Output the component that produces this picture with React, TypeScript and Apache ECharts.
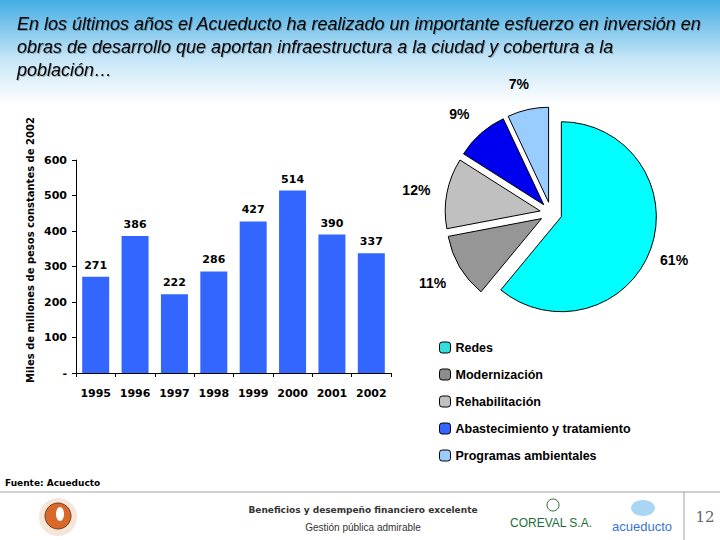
import React, { useEffect, useRef } from "react";
import * as echarts from "echarts";

const years = ["1995", "1996", "1997", "1998", "1999", "2000", "2001", "2002"];
const investment = [271, 386, 222, 286, 427, 514, 390, 337];
const yTicks = [0, 100, 200, 300, 400, 500, 600];

const pieNames = [
  "Redes",
  "Modernización",
  "Rehabilitación",
  "Abastecimiento y tratamiento",
  "Programas ambientales",
];
const pieShares = [61, 11, 12, 9, 7];
const pieColors = ["#00FFFF", "#969696", "#C0C0C0", "#0000F0", "#99CCFF"];
const legendColors = ["#33DDDD", "#8C8C8C", "#C0C0C0", "#3366FF", "#99CCFF"];

const titleLines = [
  "En los últimos años el Acueducto ha realizado un importante esfuerzo en inversión en",
  "obras de desarrollo que aportan infraestructura a la ciudad y cobertura a la",
  "población…",
];
const yAxisTitle = "Miles de millones de pesos constantes de 2002";

const PCX = 551;
const PCY = 213;
const LABEL_R = 131;

export default function App() {
  const ref = useRef<HTMLDivElement>(null);
  useEffect(() => {
    if (!ref.current) return;
    const chart = echarts.init(ref.current, null, { renderer: "svg" });
    const option: any = {
      animation: false,
      backgroundColor: "#FFFFFF",
      textStyle: { fontFamily: "DejaVu Sans" },
      graphic: [
        {
          type: "rect",
          left: 0,
          top: 0,
          z: -10,
          shape: { x: 0, y: 0, width: 720, height: 105 },
          style: {
            fill: new echarts.graphic.LinearGradient(0, 0, 0, 1, [
              { offset: 0, color: "#43ACE4" },
              { offset: 0.55, color: "#C4E5F7" },
              { offset: 1, color: "#FFFFFF" },
            ]),
          },
          silent: true,
        },
        {
          type: "text",
          x: 17,
          y: 12,
          style: {
            text: titleLines.join("\n"),
            fontFamily: "Liberation Sans",
            fontStyle: "italic",
            fontSize: 18,
            lineHeight: 23,
            fill: "#000",
            textShadowColor: "rgba(0,0,0,0.25)",
            textShadowOffsetX: 1,
            textShadowOffsetY: 1,
            textShadowBlur: 1,
            verticalAlign: "top",
            align: "left",
          },
        },
        {
          type: "text",
          x: 30,
          y: 250,
          rotation: Math.PI / 2,
          style: {
            text: yAxisTitle,
            fontFamily: "DejaVu Sans",
            fontWeight: "bold",
            fontSize: 10,
            fill: "#000",
            align: "center",
            verticalAlign: "middle",
          },
        },
        {
          type: "text",
          x: 5,
          y: 483,
          style: {
            text: "Fuente: Acueducto",
            fontFamily: "DejaVu Sans",
            fontWeight: "bold",
            fontSize: 9,
            fill: "#000",
            align: "left",
            verticalAlign: "middle",
          },
        },
        {
          type: "line",
          shape: { x1: 0, y1: 492, x2: 720, y2: 492 },
          style: { stroke: "#A0A0A0", lineWidth: 1 },
        },
        {
          type: "line",
          shape: { x1: 684, y1: 492, x2: 684, y2: 540 },
          style: { stroke: "#A0A0A0", lineWidth: 1 },
        },
        {
          type: "text",
          x: 705,
          y: 517,
          style: {
            text: "12",
            fontFamily: "DejaVu Serif",
            fontSize: 15,
            fill: "#666",
            align: "center",
            verticalAlign: "middle",
          },
        },
        {
          type: "text",
          x: 363,
          y: 510,
          style: {
            text: "Beneficios y desempeño financiero excelente",
            fontFamily: "DejaVu Sans",
            fontWeight: "bold",
            fontSize: 9,
            fill: "#333",
            align: "center",
            verticalAlign: "middle",
          },
        },
        {
          type: "text",
          x: 363,
          y: 527,
          style: {
            text: "Gestión pública admirable",
            fontFamily: "Liberation Sans",
            fontSize: 10,
            fill: "#333",
            align: "center",
            verticalAlign: "middle",
          },
        },
        // left logo
        {
          type: "circle",
          shape: { cx: 58, cy: 517, r: 19 },
          style: { fill: "#F4E6DA", stroke: "none" },
        },
        {
          type: "circle",
          shape: { cx: 58, cy: 516, r: 13 },
          style: { fill: "#D9692A", stroke: "#7A3A14", lineWidth: 1 },
        },
        {
          type: "ellipse",
          shape: { cx: 60, cy: 514, rx: 4, ry: 7 },
          style: { fill: "#FFFFFF" },
        },
        // Coreval logo
        {
          type: "circle",
          shape: { cx: 553, cy: 505, r: 6 },
          style: { fill: "#FFFFFF", stroke: "#2F6B3A", lineWidth: 1 },
        },
        {
          type: "text",
          x: 551,
          y: 523,
          style: {
            text: "COREVAL S.A.",
            fontFamily: "Liberation Sans",
            fontSize: 12,
            fill: "#1F6E3A",
            align: "center",
            verticalAlign: "middle",
          },
        },
        // acueducto logo
        {
          type: "ellipse",
          shape: { cx: 643, cy: 508, rx: 12, ry: 8 },
          style: { fill: "#A9D6F2" },
        },
        {
          type: "text",
          x: 642,
          y: 526,
          style: {
            text: "acueducto",
            fontFamily: "Liberation Sans",
            fontSize: 13,
            fill: "#3A73D6",
            align: "center",
            verticalAlign: "middle",
          },
        },
      ],
      grid: { left: 76, right: 329, top: 160, bottom: 167 },
      xAxis: {
        type: "category",
        data: years,
        axisLine: { lineStyle: { color: "#000", width: 1 } },
        axisTick: { show: true, length: 4, lineStyle: { color: "#000" } },
        axisLabel: {
          interval: 0,
          color: "#000",
          fontFamily: "DejaVu Sans",
          fontWeight: "bold",
          fontSize: 11,
          margin: 15,
        },
      },
      yAxis: {
        type: "value",
        min: 0,
        max: 600,
        interval: 100,
        axisLine: { show: true, lineStyle: { color: "#000", width: 1 } },
        axisTick: { show: true, length: 4, lineStyle: { color: "#000" } },
        splitLine: { show: false },
        axisLabel: {
          color: "#000",
          fontFamily: "DejaVu Sans",
          fontWeight: "bold",
          fontSize: 11,
          margin: 9,
          formatter: (v: number) => (v === yTicks[0] ? "-" : String(v)),
        },
      },
      legend: {
        orient: "vertical",
        left: 434,
        top: 336,
        itemWidth: 11,
        itemHeight: 11,
        itemGap: 14,
        selectedMode: false,
        textStyle: {
          fontFamily: "Liberation Sans",
          fontWeight: "bold",
          fontSize: 12.5,
          color: "#000",
        },
        data: pieNames.map((n, i) => ({
          name: n,
          itemStyle: { color: legendColors[i], borderColor: "#000", borderWidth: 1 },
        })),
      },
      series: [
        {
          type: "bar",
          data: investment,
          barWidth: 27,
          itemStyle: { color: "#3366FF" },
          label: {
            show: true,
            position: "top",
            distance: 6,
            color: "#000",
            fontFamily: "DejaVu Sans",
            fontWeight: "bold",
            fontSize: 11,
          },
          emphasis: { disabled: true },
        },
        {
          type: "pie",
          center: [PCX, PCY],
          radius: 95,
          startAngle: 90,
          clockwise: true,
          selectedMode: "multiple",
          selectedOffset: 11,
          itemStyle: { borderColor: "#000", borderWidth: 1 },
          emphasis: { disabled: true },
          select: { itemStyle: { borderColor: "#000", borderWidth: 1 } },
          label: { show: false },
          labelLine: { show: false },
          data: pieNames.map((n, i) => ({
            name: n,
            value: pieShares[i],
            selected: true,
            itemStyle: { color: pieColors[i] },
          })),
        },
        {
          // invisible ring carrying the percentage labels around the pie
          type: "pie",
          center: [PCX - 3, PCY + 2],
          radius: [LABEL_R - 12, LABEL_R + 12],
          startAngle: 90,
          clockwise: true,
          silent: true,
          selectedMode: false,
          itemStyle: { color: "rgba(0,0,0,0)", borderWidth: 0 },
          emphasis: { disabled: true },
          label: {
            show: true,
            position: "inside",
            formatter: "{d}%",
            fontFamily: "Liberation Sans",
            fontWeight: "bold",
            fontSize: 14,
            color: "#000",
          },
          labelLine: { show: false },
          data: pieNames.map((n, i) => ({ name: n, value: pieShares[i] })),
        },
      ],
    };
    chart.setOption(option);
    return () => chart.dispose();
  }, []);
  return (
    <div
      ref={ref}
      style={{ position: "fixed", left: 0, top: 0, width: 720, height: 540 }}
    />
  );
}
